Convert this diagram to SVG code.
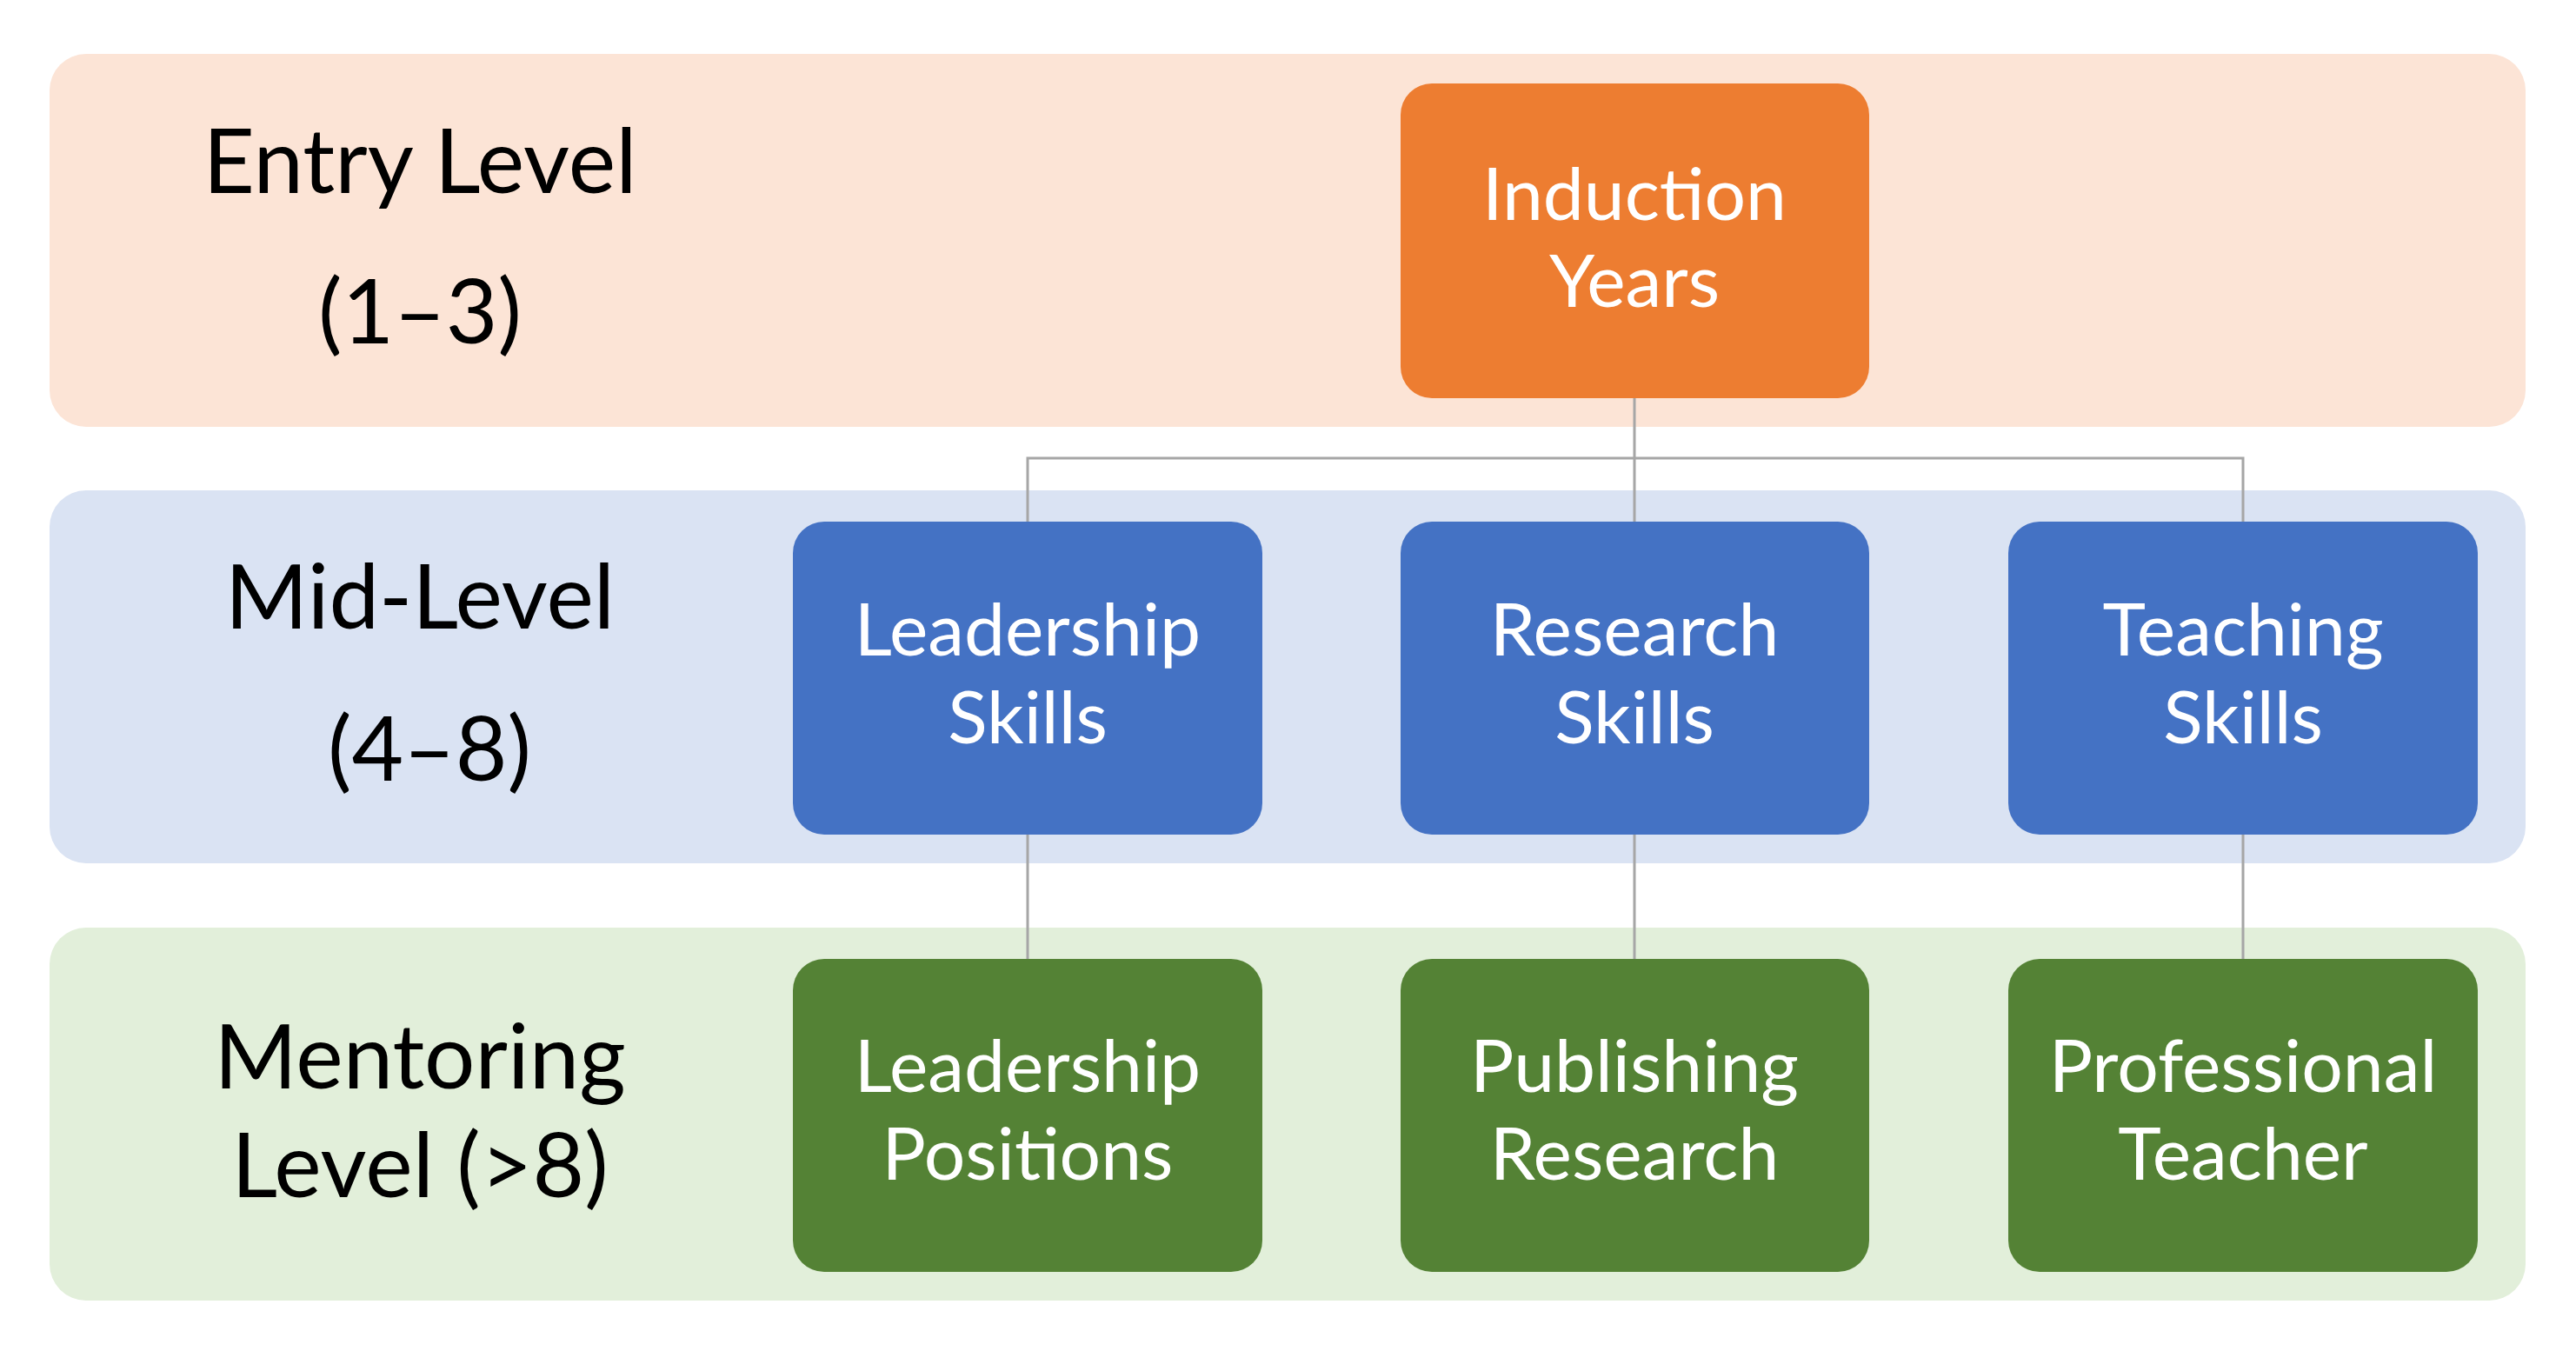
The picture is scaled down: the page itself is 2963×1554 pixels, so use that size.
<svg xmlns="http://www.w3.org/2000/svg" width="2963" height="1554" viewBox="0 0 2963 1554">
<style>
.band{stroke:none}
.box{stroke:none}
.lbl{font-family:Lato,"Liberation Sans",sans-serif;font-size:103px;fill:#000;text-anchor:middle}
.bt{font-family:Lato,"Liberation Sans",sans-serif;font-size:84px;fill:#fff;text-anchor:middle}
.con{fill:none;stroke:#A6A6A6;stroke-width:3}
</style>
<rect width="2963" height="1554" fill="#fff"/>
<g id="band-entry"><rect class="band" x="57" y="62" width="2848" height="429" rx="42" fill="#FCE4D6"/>
<text class="lbl" x="483" y="222">Entry Level</text><text class="lbl" x="483" y="395">(1–3)</text></g>
<g id="band-mid"><rect class="band" x="57" y="564" width="2848" height="429" rx="42" fill="#DAE3F3"/>
<text class="lbl" x="483" y="723">Mid-Level</text><text class="lbl" x="494" y="898">(4–8)</text></g>
<g id="band-mentor"><rect class="band" x="57" y="1067" width="2848" height="429" rx="42" fill="#E2EFDA"/>
<text class="lbl" x="483" y="1252">Mentoring</text><text class="lbl" x="483" y="1377">Level (&gt;8)</text></g>
<g id="connectors">
<path class="con" d="M1880 458V600M1182 600V527H2580V600M1182 960V1103M1880 960V1103M2580 960V1103"/>
</g>
<g id="induction"><rect class="box" x="1611" y="96" width="539" height="362" rx="36" fill="#ED7D31"/>
<text class="bt" x="1880" y="253">Induction</text><text class="bt" x="1880" y="353">Years</text></g>
<g id="leadership-skills"><rect class="box" x="912" y="600" width="540" height="360" rx="36" fill="#4472C4"/>
<text class="bt" x="1182" y="754">Leadership</text><text class="bt" x="1182" y="855">Skills</text></g>
<g id="research-skills"><rect class="box" x="1611" y="600" width="539" height="360" rx="36" fill="#4472C4"/>
<text class="bt" x="1880" y="754">Research</text><text class="bt" x="1880" y="855">Skills</text></g>
<g id="teaching-skills"><rect class="box" x="2310" y="600" width="540" height="360" rx="36" fill="#4472C4"/>
<text class="bt" x="2580" y="754">Teaching</text><text class="bt" x="2580" y="855">Skills</text></g>
<g id="leadership-positions"><rect class="box" x="912" y="1103" width="540" height="360" rx="36" fill="#548235"/>
<text class="bt" x="1182" y="1256">Leadership</text><text class="bt" x="1182" y="1357">Positions</text></g>
<g id="publishing-research"><rect class="box" x="1611" y="1103" width="539" height="360" rx="36" fill="#548235"/>
<text class="bt" x="1880" y="1256">Publishing</text><text class="bt" x="1880" y="1357">Research</text></g>
<g id="professional-teacher"><rect class="box" x="2310" y="1103" width="540" height="360" rx="36" fill="#548235"/>
<text class="bt" x="2580" y="1256">Professional</text><text class="bt" x="2580" y="1357">Teacher</text></g>
</svg>
